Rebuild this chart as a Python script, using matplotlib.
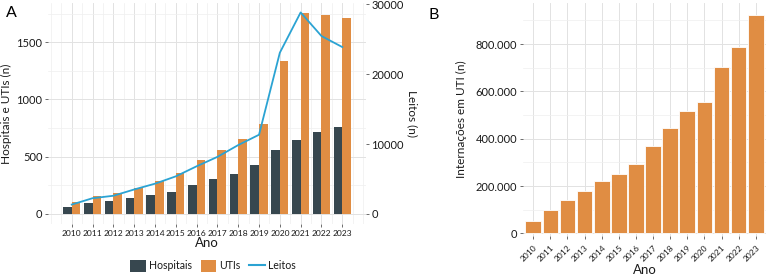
import numpy as np
import matplotlib
matplotlib.use("Agg")
import matplotlib.pyplot as plt
from matplotlib.patches import Patch
from matplotlib.lines import Line2D
from matplotlib.ticker import FuncFormatter, MultipleLocator

plt.rcParams['font.family'] = ['Lato', 'DejaVu Sans']

# data
anos = [2010, 2011, 2012, 2013, 2014, 2015, 2016, 2017, 2018, 2019, 2020, 2021, 2022, 2023]
hospitais = [64, 99, 113, 142, 168, 192, 256, 308, 349, 425, 561, 648, 713, 759]
utis = [105, 160, 180, 230, 285, 355, 471, 556, 654, 785, 1335, 1754, 1739, 1713]
leitos = [1340, 2250, 2600, 3500, 4330, 5380, 6820, 8170, 9860, 11340, 23090, 28860, 25480, 23900]
internacoes = [52000, 100000, 141000, 178000, 220000, 252000, 292000, 368000,
               444000, 516000, 557000, 703000, 786000, 925000]

c_hosp = "#37474F"
c_uti = "#E08D43"
c_leito = "#2BA3D3"
grid_major = "#E2E2E2"
grid_minor = "#EFEFEF"
txt = "#1A1A1A"

W, H = 768, 278
fig = plt.figure(figsize=(W / 100, H / 100), dpi=100)


def box(x0, y0, x1, y1):
    # pixel box (top-left origin) -> figure fraction
    return [x0 / W, 1 - y1 / H, (x1 - x0) / W, (y1 - y0) / H]


def style(ax):
    for s in ax.spines.values():
        s.set_visible(False)
    ax.tick_params(length=2.5, width=0.6, color="#555555", labelcolor=txt, pad=1.5)
    ax.set_axisbelow(True)


# ---------- Panel A ----------
axA = fig.add_axes(box(48, 3, 366, 224))
style(axA)
x = np.array(anos)
bw = 0.41
axA.bar(x - bw / 2, hospitais, width=bw, color=c_hosp, label="Hospitais")
axA.bar(x + bw / 2, utis, width=bw, color=c_uti, label="UTIs")
axA.set_xlim(2008.86, 2024.14)
ylimA = (-88, 1842)
axA.set_ylim(*ylimA)
axA.set_xticks(anos)
axA.xaxis.set_minor_locator(MultipleLocator(0.5))
axA.set_yticks([0, 500, 1000, 1500])
axA.yaxis.set_minor_locator(MultipleLocator(250))
axA.tick_params(axis="x", labelsize=6.1)
axA.tick_params(axis="y", labelsize=8)
axA.tick_params(which="minor", length=0)
axA.grid(which="major", color=grid_major, lw=0.7)
axA.grid(which="minor", color=grid_minor, lw=0.5)
axA.set_xlabel("Ano", fontsize=9.5, color=txt, labelpad=0)
axA.set_ylabel("Hospitais e UTIs (n)", fontsize=8.5, color=txt, labelpad=3)

k = 16.4
axA2 = axA.twinx()
style(axA2)
axA2.plot(anos, leitos, color=c_leito, lw=1.3)
axA2.set_ylim(ylimA[0] * k, ylimA[1] * k)
axA2.set_yticks([0, 10000, 20000, 30000])
axA2.tick_params(axis="y", labelsize=8)
axA2.set_ylabel("Leitos (n)", fontsize=8.5, color=txt, rotation=270, labelpad=10)

fig.text(6 / W, 1 - 13 / H, "A", fontsize=11.5, color="black", va="center")

handles = [Patch(facecolor=c_hosp, label="Hospitais"),
           Patch(facecolor=c_uti, label="UTIs"),
           Line2D([0], [0], color=c_leito, lw=1.5, label="Leitos")]
fig.legend(handles=handles, loc="center", bbox_to_anchor=(213 / W, 1 - 266 / H),
           ncol=3, frameon=False, fontsize=7.6, handlelength=1.5, handleheight=1.5,
           handletextpad=0.3, columnspacing=0.8, labelcolor=txt)

# ---------- Panel B ----------
axB = fig.add_axes(box(523, 3, 766, 236))
style(axB)
pos = np.arange(len(anos))
axB.bar(pos, internacoes, width=0.92, color=c_uti, edgecolor="white", linewidth=0.6)
axB.set_xlim(-0.6, len(anos) - 0.4)
axB.set_ylim(-11400, 974000)
axB.set_xticks(pos)
axB.set_xticklabels([str(a) for a in anos], rotation=45, ha="right",
                    rotation_mode="anchor", fontsize=6.1)
axB.tick_params(axis="x", pad=3)
axB.set_yticks([0, 200000, 400000, 600000, 800000])
axB.yaxis.set_minor_locator(MultipleLocator(100000))
axB.yaxis.set_major_formatter(FuncFormatter(lambda v, p: f"{int(v):,}".replace(",", ".")))
axB.tick_params(axis="y", labelsize=8)
axB.tick_params(which="minor", length=0)
axB.grid(axis="x", which="major", color=grid_major, lw=0.7)
axB.grid(axis="y", which="major", color=grid_major, lw=0.7)
axB.grid(axis="y", which="minor", color=grid_minor, lw=0.5)
axB.set_xlabel("Ano", fontsize=9.5, color=txt, labelpad=1)
axB.set_ylabel("Internações em UTI (n)", fontsize=8.5, color=txt, labelpad=6)

fig.text(428 / W, 1 - 15 / H, "B", fontsize=11.5, color="black", va="center")

fig.savefig("out.png", dpi=100)
